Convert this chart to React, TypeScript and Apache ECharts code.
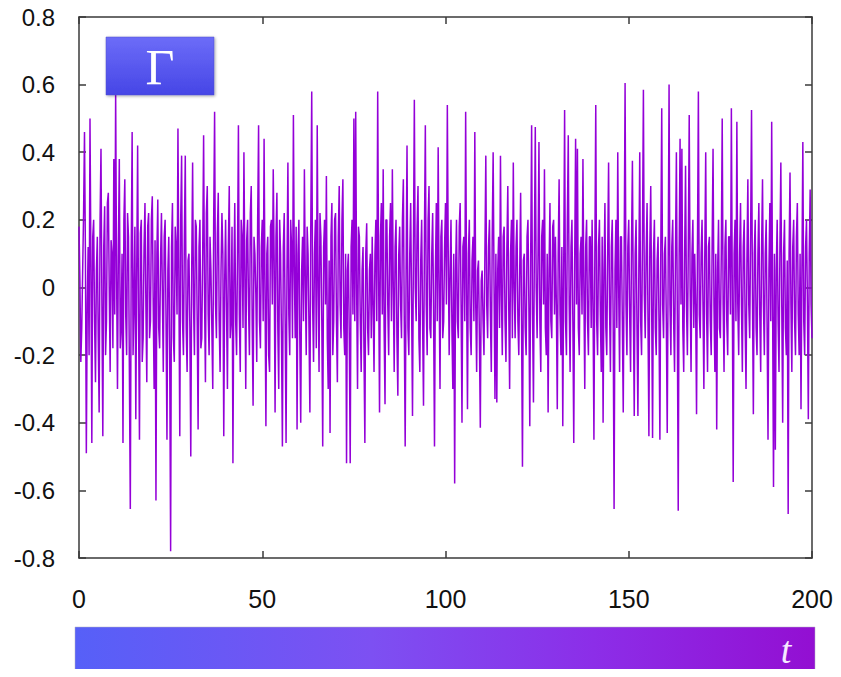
import React, { useEffect, useRef } from "react";
import * as echarts from "echarts";

const tStep = 0.25;
const xTicks = [0, 50, 100, 150, 200];
const yTicks = [-0.8, -0.6, -0.4, -0.2, 0, 0.2, 0.4, 0.6, 0.8];

const gamma00 = [0.18, 0.02, -0.22, -0.12, 0.05, 0.22, 0.46, 0.1, -0.49, -0.05, 0.12, -0.2, 0.5, 0.08, -0.46, 0.15, 0.2, -0.1, -0.28, 0.05, 0.15, -0.15, -0.37, 0.2, 0.41, -0.05, -0.44, 0.12, 0.24, -0.2, -0.1, 0.25, 0.28, 0.0, -0.25, 0.14, 0.1, -0.18, 0.38, -0.08];
const gamma10 = [0.58, 0.05, -0.3, 0.12, 0.38, -0.18, -0.12, 0.1, -0.46, 0.2, 0.32, -0.08, -0.2, 0.22, 0.15, -0.25, -0.655, 0.1, 0.46, -0.2, -0.05, 0.18, -0.39, 0.05, 0.42, -0.1, -0.45, 0.16, 0.2, -0.22, -0.15, 0.12, 0.25, -0.05, -0.28, 0.18, 0.22, -0.15, -0.1, 0.2];
const gamma20 = [0.27, -0.05, -0.3, 0.14, -0.63, 0.1, 0.26, -0.12, -0.18, 0.08, 0.22, -0.02, -0.25, 0.15, 0.2, -0.1, -0.45, 0.05, 0.15, -0.2, -0.78, 0.12, 0.25, -0.15, -0.22, 0.18, 0.12, -0.08, 0.47, 0.02, -0.44, 0.2, 0.39, -0.1, -0.2, 0.15, 0.39, -0.12, -0.25, 0.08];
const gamma30 = [0.1, -0.12, -0.5, 0.05, 0.37, -0.05, -0.2, 0.2, 0.18, -0.1, -0.42, 0.12, 0.2, -0.18, -0.15, 0.1, 0.45, -0.02, -0.28, 0.22, 0.3, -0.08, -0.2, 0.15, 0.05, -0.12, -0.3, 0.2, 0.52, -0.05, -0.15, 0.16, 0.28, -0.1, -0.25, 0.05, 0.22, 0.1, -0.44, 0.02];
const gamma40 = [0.2, -0.06, -0.3, 0.12, 0.3, -0.15, -0.1, 0.18, -0.52, 0.02, 0.25, -0.1, -0.2, 0.1, 0.48, -0.08, -0.25, 0.2, 0.15, -0.12, 0.4, 0.05, -0.3, 0.14, 0.2, -0.05, -0.2, 0.22, 0.3, -0.1, -0.35, 0.15, 0.1, -0.02, -0.22, 0.2, 0.48, -0.1, -0.18, 0.12];
const gamma50 = [0.2, -0.1, 0.44, 0.0, -0.41, 0.1, 0.15, -0.2, -0.25, 0.18, 0.2, -0.05, 0.35, 0.08, -0.37, 0.15, 0.28, -0.12, -0.3, 0.2, 0.1, -0.15, -0.47, 0.12, 0.22, -0.1, -0.46, 0.05, 0.37, -0.08, -0.2, 0.2, 0.12, -0.15, 0.51, 0.05, -0.15, 0.18, -0.42, 0.1];
const gamma60 = [0.2, -0.15, -0.4, 0.05, 0.15, -0.1, 0.35, 0.02, -0.2, 0.18, 0.1, -0.12, -0.37, 0.2, 0.58, -0.05, -0.22, 0.1, 0.2, -0.18, 0.48, 0.0, -0.25, 0.22, 0.15, -0.1, -0.47, 0.12, 0.2, -0.05, 0.33, -0.15, -0.3, 0.08, -0.43, 0.15, 0.25, -0.2, -0.1, 0.2];
const gamma70 = [0.22, -0.1, -0.28, 0.15, 0.3, -0.05, -0.15, 0.2, 0.32, -0.12, -0.2, 0.1, -0.52, 0.05, 0.1, -0.15, -0.52, 0.12, 0.2, -0.08, 0.5, -0.1, 0.52, 0.0, -0.3, 0.18, 0.15, -0.1, -0.25, 0.05, 0.12, -0.18, -0.46, 0.1, 0.19, -0.12, -0.2, 0.05, 0.1, -0.15];
const gamma80 = [0.15, -0.05, -0.25, 0.1, 0.2, -0.1, 0.58, 0.05, -0.37, 0.15, 0.25, -0.08, 0.35, -0.12, -0.345, 0.2, 0.2, -0.05, -0.2, 0.15, 0.25, -0.1, 0.35, 0.0, -0.25, 0.12, 0.2, -0.15, -0.32, 0.1, 0.18, -0.05, -0.15, 0.2, 0.32, -0.1, -0.47, 0.05, 0.42, -0.12];
const gamma90 = [-0.2, 0.1, 0.25, -0.05, -0.38, 0.12, 0.555, 0.0, -0.1, 0.18, 0.3, -0.15, -0.25, 0.08, 0.2, -0.1, -0.35, 0.15, 0.48, -0.05, -0.2, 0.2, 0.3, -0.12, -0.15, 0.1, 0.22, -0.08, -0.47, 0.05, 0.25, -0.1, 0.415, 0.02, -0.3, 0.15, 0.2, -0.15, -0.1, 0.12];
const gamma100 = [0.25, -0.05, 0.54, 0.1, -0.2, 0.05, 0.2, -0.12, -0.3, 0.1, -0.58, 0.05, 0.2, -0.1, -0.15, 0.18, 0.25, -0.05, -0.4, 0.12, 0.15, -0.1, 0.52, 0.0, -0.36, 0.1, 0.2, -0.12, -0.2, 0.08, 0.15, -0.1, 0.46, -0.05, -0.25, 0.05, 0.08, -0.15, -0.415, 0.02];
const gamma110 = [0.05, -0.1, -0.2, 0.1, 0.39, -0.05, -0.15, 0.12, 0.2, -0.08, -0.25, 0.15, 0.4, 0.0, -0.33, 0.1, -0.34, 0.05, 0.15, -0.12, 0.39, -0.02, -0.2, 0.15, 0.18, -0.1, -0.22, 0.12, 0.3, -0.05, -0.3, 0.1, 0.2, -0.15, 0.37, 0.0, -0.15, 0.12, 0.2, -0.1];
const gamma120 = [-0.2, 0.05, 0.28, -0.1, -0.53, 0.08, 0.1, -0.12, -0.2, 0.15, 0.2, -0.05, -0.41, 0.1, 0.48, -0.08, -0.34, 0.12, 0.475, 0.0, -0.15, 0.1, 0.43, -0.1, -0.25, 0.15, 0.2, -0.05, 0.35, -0.12, -0.2, 0.1, -0.37, 0.05, 0.25, -0.1, -0.15, 0.18, 0.2, -0.08];
const gamma130 = [0.15, -0.05, -0.36, 0.1, 0.32, -0.08, -0.2, 0.12, -0.41, 0.05, 0.525, -0.1, -0.2, 0.2, 0.45, -0.05, -0.25, 0.12, 0.2, -0.1, -0.46, 0.08, 0.44, -0.05, 0.41, -0.12, -0.2, 0.1, 0.15, -0.08, 0.38, 0.0, -0.3, 0.12, 0.2, -0.1, -0.2, 0.15, 0.15, -0.12];
const gamma140 = [0.2, -0.05, -0.45, 0.1, 0.54, -0.1, -0.2, 0.12, 0.2, -0.08, -0.25, 0.15, -0.4, 0.05, 0.25, -0.12, -0.2, 0.1, 0.37, -0.05, -0.25, 0.12, 0.2, -0.1, -0.655, 0.05, 0.2, -0.12, 0.4, 0.0, -0.25, 0.15, 0.15, -0.1, -0.37, 0.1, 0.605, -0.05, -0.2, 0.12];
const gamma150 = [0.2, -0.08, -0.25, 0.12, 0.375, -0.05, -0.38, 0.1, 0.2, -0.12, -0.38, 0.05, 0.4, -0.1, -0.2, 0.15, 0.585, -0.02, -0.15, 0.1, 0.25, -0.1, -0.44, 0.12, 0.3, -0.05, -0.445, 0.1, 0.2, -0.12, -0.2, 0.08, 0.15, -0.1, -0.45, 0.12, 0.53, -0.05, -0.15, 0.1];
const gamma160 = [0.15, -0.1, -0.43, 0.05, 0.6, -0.05, -0.2, 0.12, 0.2, -0.1, -0.25, 0.1, 0.4, -0.08, -0.66, 0.1, 0.44, -0.05, 0.41, -0.12, -0.25, 0.1, 0.36, -0.05, -0.2, 0.12, 0.51, 0.0, -0.25, 0.1, 0.2, -0.12, 0.1, -0.05, -0.375, 0.12, 0.58, -0.08, -0.15, 0.1];
const gamma170 = [0.2, -0.05, -0.3, 0.1, 0.4, -0.08, -0.25, 0.12, 0.15, -0.1, -0.2, 0.12, 0.41, -0.05, -0.25, 0.1, -0.42, 0.05, 0.2, -0.12, -0.15, 0.1, 0.5, -0.05, -0.25, 0.12, 0.2, -0.1, -0.2, 0.15, 0.15, -0.08, 0.53, 0.0, -0.575, 0.1, 0.2, -0.1, 0.49, -0.05];
const gamma180 = [-0.2, 0.1, 0.25, -0.05, -0.25, 0.12, 0.2, -0.1, -0.3, 0.08, 0.32, -0.05, -0.15, 0.15, 0.525, -0.02, -0.375, 0.1, 0.2, -0.12, -0.2, 0.1, 0.25, -0.08, -0.25, 0.12, 0.32, -0.05, -0.2, 0.1, 0.2, -0.12, -0.45, 0.05, 0.25, -0.1, 0.49, -0.05, -0.59, 0.1];
const gamma190 = [-0.48, 0.05, 0.2, -0.1, -0.25, 0.12, 0.37, -0.05, -0.4, 0.1, 0.2, -0.12, -0.2, 0.08, -0.67, 0.1, 0.34, -0.05, -0.25, 0.12, 0.2, -0.1, -0.2, 0.15, 0.25, -0.08, -0.2, 0.1, -0.36, 0.05, 0.43, -0.1, -0.2, 0.12, 0.2, -0.05, -0.39, 0.1, 0.29, -0.05, -0.15];

const gammaRows = [
  gamma00, gamma10, gamma20, gamma30, gamma40, gamma50, gamma60, gamma70, gamma80, gamma90,
  gamma100, gamma110, gamma120, gamma130, gamma140, gamma150, gamma160, gamma170, gamma180, gamma190,
];

export default function App() {
  const ref = useRef<HTMLDivElement>(null);
  useEffect(() => {
    const chart = echarts.init(ref.current!, undefined, { renderer: "svg" });
    const data: number[][] = [];
    gammaRows.forEach((row, r) => {
      row.forEach((v, j) => data.push([r * 10 + j * tStep, v]));
    });
    const axisColor = "#3a3a3a";
    const frame = { show: true, onZero: false, lineStyle: { color: axisColor, width: 1.5 } };
    const ticks = { show: true, inside: true, length: 7, lineStyle: { color: axisColor, width: 1.5 } };
    const font = "'Liberation Sans', Arial, sans-serif";
    chart.setOption({
      animation: false,
      backgroundColor: "#ffffff",
      grid: { left: 79, right: 29, top: 17, bottom: 119, containLabel: false },
      xAxis: [
        {
          type: "value", min: 0, max: 200, interval: 50,
          axisLine: frame,
          axisTick: ticks,
          axisLabel: {
            color: "#111", fontSize: 25, fontFamily: font, margin: 28,
            hideOverlap: false, showMinLabel: true, showMaxLabel: true,
            formatter: (v: number) => (xTicks.includes(v) ? String(v) : ""),
          },
          splitLine: { show: false },
        },
        {
          type: "value", min: 0, max: 200, interval: 50, position: "top",
          axisLine: frame, axisTick: ticks,
          axisLabel: { show: false }, splitLine: { show: false },
        },
      ],
      yAxis: [
        {
          type: "value", min: -0.8, max: 0.8, interval: 0.2,
          axisLine: frame,
          axisTick: ticks,
          axisLabel: {
            color: "#111", fontSize: 24, fontFamily: font, margin: 24, padding: [6, 0, 0, 0],
            formatter: (v: number) => {
              const r = Math.round(v * 10) / 10;
              const hit = yTicks.find((t) => Math.abs(t - r) < 1e-9);
              if (hit === undefined) return "";
              return hit === 0 ? "0" : String(hit);
            },
          },
          splitLine: { show: false },
        },
        {
          type: "value", min: -0.8, max: 0.8, interval: 0.2, position: "right",
          axisLine: frame, axisTick: ticks,
          axisLabel: { show: false }, splitLine: { show: false },
        },
      ],
      series: [
        {
          type: "line",
          data,
          showSymbol: false,
          symbol: "none",
          lineStyle: { color: "#9400D8", width: 1.5 },
          z: 2,
        },
      ],
      graphic: [
        {
          type: "rect",
          z: 100,
          shape: { x: 106, y: 37, width: 108, height: 58 },
          style: {
            fill: new echarts.graphic.LinearGradient(0, 0, 0, 1, [
              { offset: 0, color: "#6c6cf8" },
              { offset: 1, color: "#4646e6" },
            ]),
            stroke: "#5050c8",
            lineWidth: 0.5,
            shadowBlur: 3,
            shadowColor: "rgba(0,0,0,0.35)",
            shadowOffsetX: 1,
            shadowOffsetY: 1,
          },
        },
        {
          type: "text",
          z: 101,
          x: 160,
          y: 67,
          style: {
            text: "Γ",
            fill: "#ffffff",
            font: "50px 'Liberation Serif', 'DejaVu Serif', serif",
            align: "center",
            verticalAlign: "middle",
          },
        },
        {
          type: "rect",
          z: 100,
          shape: { x: 75, y: 627, width: 740, height: 48 },
          style: {
            fill: new echarts.graphic.LinearGradient(0, 0, 1, 0, [
              { offset: 0, color: "#5660f8" },
              { offset: 0.4, color: "#7d50f2" },
              { offset: 0.7, color: "#8c2ee8" },
              { offset: 1, color: "#930fd2" },
            ]),
            stroke: "#b0b0c0",
            lineWidth: 0.5,
          },
        },
        {
          type: "text",
          z: 101,
          x: 786,
          y: 650,
          style: {
            text: "t",
            fill: "#f6eaff",
            font: "italic 38px 'Liberation Serif', 'DejaVu Serif', serif",
            align: "center",
            verticalAlign: "middle",
          },
        },
      ],
    });
    return () => chart.dispose();
  }, []);
  return <div ref={ref} style={{ width: 841, height: 677, margin: -8 }} />;
}
